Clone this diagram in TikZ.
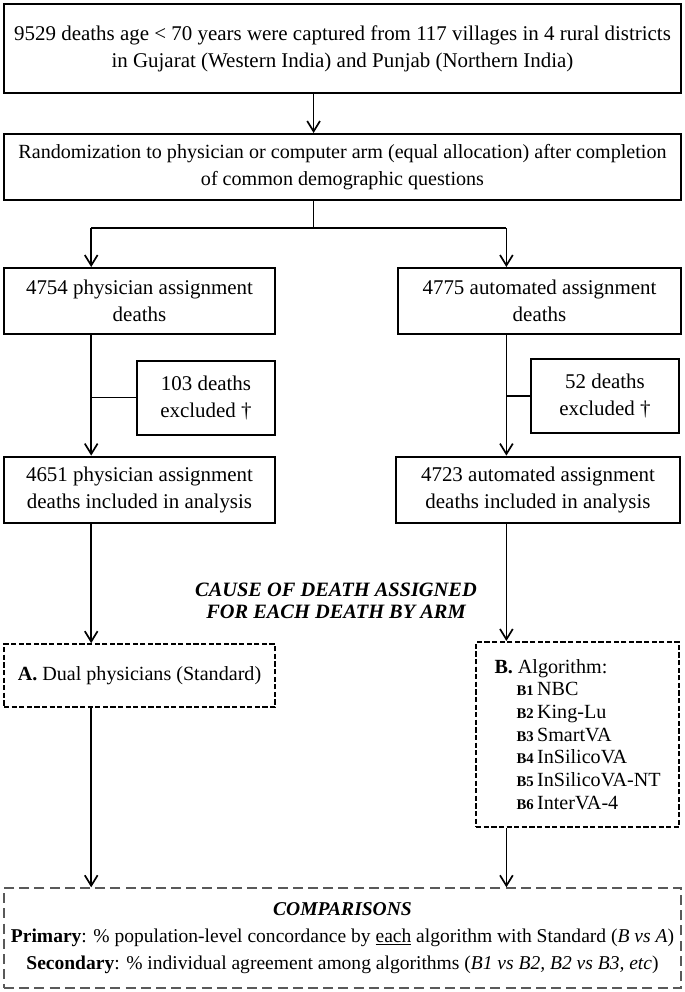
\documentclass[tikz,border=0pt]{standalone}
\usepackage{fontspec}
\setmainfont{Liberation Serif}
\usetikzlibrary{arrows.meta, positioning}
\newcommand{\alg}[2]{\hspace*{0.55cm}{\fontsize{10.5}{12}\selectfont\bfseries #1}\,#2}

\begin{document}
\begin{tikzpicture}[
  font=\fontsize{14.9}{19.2}\selectfont, >={Straight Barb[length=2.6mm, width=3.2mm]},
  box/.style={rectangle, draw, line width=1.4pt, align=center, inner sep=0pt},
  arm/.style={box, minimum height=1.65cm},
  excl/.style={box, minimum height=1.85cm},
  dbox/.style={rectangle, draw, line width=1.3pt, dash pattern=on 1.3mm off 0.6mm,
               inner sep=0pt, font=\fontsize{14.3}{16.1}\selectfont},
  cbox/.style={rectangle, draw=black!65, line width=1pt, dash pattern=on 2.5mm off 1.3mm,
               align=center, inner sep=0pt, font=\fontsize{13.9}{19.2}\selectfont},
  conn/.style={line width=1.2pt},
]
\useasboundingbox (0,0) rectangle (17.125,-24.8);
\node[box, minimum width=16.925cm, minimum height=2.225cm] (intro) at (8.5625,-1.2125)
  {9529 deaths age < 70 years were captured from 117 villages in 4 rural districts\\
   in Gujarat (Western India) and Punjab (Northern India)};
\node[box, minimum width=16.925cm, minimum height=1.65cm, font=\fontsize{14.3}{19.2}\selectfont] (rand) at (8.5625,-4.175)
  {Randomization to physician or computer arm (equal allocation) after completion\\
   of common demographic questions};
\node[arm, minimum width=6.775cm] (phys) at (3.4875,-7.525) {4754 physician assignment\\deaths};
\node[arm, minimum width=7.075cm] (auto) at (13.4875,-7.525) {4775 automated assignment\\deaths};
\node[excl, minimum width=3.45cm] (exclp) at (5.15,-9.94) {103 deaths\\excluded †};
\node[excl, minimum width=3.7cm] (excla) at (15.125,-9.9) {52 deaths\\excluded †};
\node[arm, minimum width=6.775cm] (physin) at (3.4875,-12.24) {4651 physician assignment\\deaths included in analysis};
\node[arm, minimum width=7.1cm] (autoin) at (13.45,-12.24) {4723 automated assignment\\deaths included in analysis};
\node[align=center, font=\fontsize{14.5}{15.6}\selectfont\bfseries\itshape] (cause) at (8.4,-15.03)
  {CAUSE OF DEATH ASSIGNED\\FOR EACH DEATH BY ARM};
\node[dbox, minimum width=6.775cm, minimum height=1.575cm] (dual) at (3.4875,-16.89)
  {\textbf{A.} Dual physicians (Standard)};
\node[dbox, align=left, minimum width=5.075cm, minimum height=4.625cm] (algo) at (14.44,-18.36)
  {\textbf{B.} Algorithm:\\ \alg{B1}{NBC}\\ \alg{B2}{King-Lu}\\ \alg{B3}{SmartVA}\\
   \alg{B4}{InSilicoVA}\\ \alg{B5}{InSilicoVA-NT}\\ \alg{B6}{InterVA-4}};
\node[cbox, minimum width=16.925cm, minimum height=2.5cm] (comp) at (8.5625,-23.45)
  {\textbf{\textit{COMPARISONS}}\\
   \textbf{Primary}: \% population-level concordance by \underline{each} algorithm with Standard (\textit{B vs A})\\
   \textbf{Secondary}: \% individual agreement among algorithms (\textit{B1 vs B2, B2 vs B3, etc})};
\coordinate (split) at (7.84,-5.7);
\coordinate (lanel) at (2.28,-5.7);
\coordinate (laner) at (12.66,-5.7);
\draw[->, conn] (split |- intro.south) -- (split |- rand.north);
\draw[conn] (split |- rand.south) -- (split);
\draw[conn] (lanel) -- (laner);
\draw[->, conn] (lanel) -- (lanel |- phys.north);
\draw[->, conn] (laner) -- (laner |- auto.north);
\draw[->, conn] (lanel |- phys.south) -- (lanel |- physin.north);
\draw[->, conn] (laner |- auto.south) -- (laner |- autoin.north);
\draw[conn] (lanel |- exclp.west) -- (exclp.west);
\draw[conn] (laner |- excla.west) -- (excla.west);
\draw[->, conn] (lanel |- physin.south) -- (lanel |- dual.north);
\draw[->, conn] (laner |- autoin.south) -- (laner |- algo.north);
\draw[->, conn] (lanel |- dual.south) -- (lanel |- comp.north);
\draw[->, conn] (laner |- algo.south) -- (laner |- comp.north);
\end{tikzpicture}
\end{document}
